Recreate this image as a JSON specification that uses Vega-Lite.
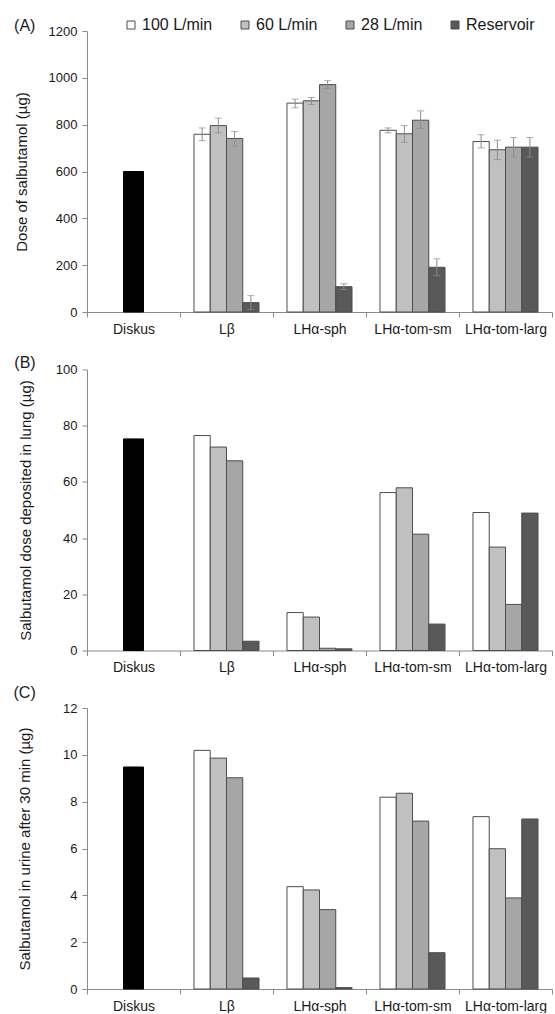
{
  "$schema": "https://vega.github.io/schema/vega-lite/v6.json",
  "background": "white",
  "padding": {"left": 13, "top": 17, "right": 0, "bottom": 0},
  "config": {
    "font": "Liberation Sans",
    "view": {"stroke": null},
    "axis": {"domainColor": "#8a8a8a", "tickColor": "#8a8a8a", "tickSize": 5, "grid": false, "labelColor": "#1a1a1a", "titleColor": "#1a1a1a", "titleFontWeight": "normal", "titleFontSize": 15, "labelFontSize": 13, "labelPadding": 5},
    "axisX": {"tickBand": "extent", "labelFontSize": 14, "labelAngle": 0},
    "title": {"fontSize": 16, "fontWeight": "normal", "color": "#1a1a1a", "anchor": "start", "frame": "bounds"},
    "bar": {"stroke": "#4d4d4d", "strokeWidth": 1}
  },
  "bounds": "flush",
  "spacing": 57.5,
  "resolve": {"scale": {"color": "independent", "y": "independent"}},
  "datasets": {
    "a": [
      {"device": "Diskus", "series": "Diskus", "value": 600},
      {"device": "Lβ", "series": "100 L/min", "value": 759, "lo": 732, "hi": 786},
      {"device": "Lβ", "series": "60 L/min", "value": 796, "lo": 765, "hi": 828},
      {"device": "Lβ", "series": "28 L/min", "value": 741, "lo": 709, "hi": 771},
      {"device": "Lβ", "series": "Reservoir", "value": 40, "lo": 10, "hi": 70},
      {"device": "LHα-sph", "series": "100 L/min", "value": 892, "lo": 872, "hi": 909},
      {"device": "LHα-sph", "series": "60 L/min", "value": 902, "lo": 886, "hi": 916},
      {"device": "LHα-sph", "series": "28 L/min", "value": 971, "lo": 954, "hi": 988},
      {"device": "LHα-sph", "series": "Reservoir", "value": 108, "lo": 96, "hi": 121},
      {"device": "LHα-tom-sm", "series": "100 L/min", "value": 776, "lo": 765, "hi": 786},
      {"device": "LHα-tom-sm", "series": "60 L/min", "value": 761, "lo": 724, "hi": 796},
      {"device": "LHα-tom-sm", "series": "28 L/min", "value": 819, "lo": 784, "hi": 859},
      {"device": "LHα-tom-sm", "series": "Reservoir", "value": 191, "lo": 155, "hi": 227},
      {"device": "LHα-tom-larg", "series": "100 L/min", "value": 728, "lo": 701, "hi": 757},
      {"device": "LHα-tom-larg", "series": "60 L/min", "value": 693, "lo": 651, "hi": 734},
      {"device": "LHα-tom-larg", "series": "28 L/min", "value": 704, "lo": 662, "hi": 745},
      {"device": "LHα-tom-larg", "series": "Reservoir", "value": 704, "lo": 662, "hi": 745}
    ],
    "b": [
      {"device": "Diskus", "series": "Diskus", "value": 75.3},
      {"device": "Lβ", "series": "100 L/min", "value": 76.5},
      {"device": "Lβ", "series": "60 L/min", "value": 72.4},
      {"device": "Lβ", "series": "28 L/min", "value": 67.5},
      {"device": "Lβ", "series": "Reservoir", "value": 3.3},
      {"device": "LHα-sph", "series": "100 L/min", "value": 13.5},
      {"device": "LHα-sph", "series": "60 L/min", "value": 11.9},
      {"device": "LHα-sph", "series": "28 L/min", "value": 0.8},
      {"device": "LHα-sph", "series": "Reservoir", "value": 0.6},
      {"device": "LHα-tom-sm", "series": "100 L/min", "value": 56.2},
      {"device": "LHα-tom-sm", "series": "60 L/min", "value": 57.9},
      {"device": "LHα-tom-sm", "series": "28 L/min", "value": 41.4},
      {"device": "LHα-tom-sm", "series": "Reservoir", "value": 9.4},
      {"device": "LHα-tom-larg", "series": "100 L/min", "value": 49.1},
      {"device": "LHα-tom-larg", "series": "60 L/min", "value": 36.8},
      {"device": "LHα-tom-larg", "series": "28 L/min", "value": 16.4},
      {"device": "LHα-tom-larg", "series": "Reservoir", "value": 48.9}
    ],
    "c": [
      {"device": "Diskus", "series": "Diskus", "value": 9.48},
      {"device": "Lβ", "series": "100 L/min", "value": 10.19},
      {"device": "Lβ", "series": "60 L/min", "value": 9.86},
      {"device": "Lβ", "series": "28 L/min", "value": 9.02},
      {"device": "Lβ", "series": "Reservoir", "value": 0.47},
      {"device": "LHα-sph", "series": "100 L/min", "value": 4.37},
      {"device": "LHα-sph", "series": "60 L/min", "value": 4.23},
      {"device": "LHα-sph", "series": "28 L/min", "value": 3.39},
      {"device": "LHα-sph", "series": "Reservoir", "value": 0.06},
      {"device": "LHα-tom-sm", "series": "100 L/min", "value": 8.19},
      {"device": "LHα-tom-sm", "series": "60 L/min", "value": 8.36},
      {"device": "LHα-tom-sm", "series": "28 L/min", "value": 7.17},
      {"device": "LHα-tom-sm", "series": "Reservoir", "value": 1.55},
      {"device": "LHα-tom-larg", "series": "100 L/min", "value": 7.36},
      {"device": "LHα-tom-larg", "series": "60 L/min", "value": 5.99},
      {"device": "LHα-tom-larg", "series": "28 L/min", "value": 3.89},
      {"device": "LHα-tom-larg", "series": "Reservoir", "value": 7.26}
    ]
  },
  "vconcat": [
    {
      "width": 465, "height": 281,
      "title": {"text": "(A)", "offset": -17, "dx": 0},
      "data": {"name": "a"},
      "encoding": {
        "x": {"field": "device", "type": "nominal", "sort": null, "title": null, "scale": {"domain": ["Diskus", "Lβ", "LHα-sph", "LHα-tom-sm", "LHα-tom-larg"], "paddingInner": 0, "paddingOuter": 0}}
      },
      "layer": [
        {
          "transform": [{"filter": "datum.series === 'Diskus'"}],
          "mark": {"type": "bar", "color": "#000000", "stroke": "#000000", "width": {"band": 0.215}},
          "encoding": {"y": {"field": "value", "type": "quantitative", "title": "Dose of salbutamol  (µg)", "scale": {"domain": [0, 1200], "nice": false}, "axis": {"values": [0, 200, 400, 600, 800, 1000, 1200], "format": "d", "titlePadding": 19}}}
        },
        {
          "transform": [{"filter": "datum.series !== 'Diskus'"}],
          "mark": {"type": "bar"},
          "encoding": {
            "xOffset": {"field": "series", "type": "nominal", "sort": null, "scale": {"domain": ["100 L/min", "60 L/min", "28 L/min", "Reservoir"], "paddingInner": 0, "paddingOuter": 0.86}},
            "y": {"field": "value", "type": "quantitative", "title": "Dose of salbutamol  (µg)"},
            "color": {"field": "series", "type": "nominal", "sort": null, "scale": {"domain": ["100 L/min", "60 L/min", "28 L/min", "Reservoir"], "range": ["#ffffff", "#c0c0c0", "#a6a6a6", "#595959"]},
              "legend": {"orient": "none", "legendX": 36, "legendY": -14, "direction": "horizontal", "title": null, "symbolType": "square", "symbolSize": 64, "symbolStrokeColor": "#4d4d4d", "symbolStrokeWidth": 1, "symbolOpacity": 1, "labelFontSize": 16, "labelColor": "#1a1a1a", "labelOffset": 3, "columnPadding": 24, "labelLimit": 300}}
          }
        },
        {
          "transform": [{"filter": "datum.series !== 'Diskus'"}],
          "mark": {"type": "rule", "color": "#8c8c8c", "strokeWidth": 1},
          "encoding": {
            "xOffset": {"field": "series", "type": "nominal", "sort": null, "scale": {"domain": ["100 L/min", "60 L/min", "28 L/min", "Reservoir"], "paddingInner": 0, "paddingOuter": 0.86}},
            "y": {"field": "lo", "type": "quantitative", "title": "Dose of salbutamol  (µg)"},
            "y2": {"field": "hi"}
          }
        },
        {
          "transform": [{"filter": "datum.series !== 'Diskus'"}],
          "mark": {"type": "tick", "color": "#8c8c8c", "size": 7, "thickness": 1, "orient": "horizontal"},
          "encoding": {
            "xOffset": {"field": "series", "type": "nominal", "sort": null, "scale": {"domain": ["100 L/min", "60 L/min", "28 L/min", "Reservoir"], "paddingInner": 0, "paddingOuter": 0.86}},
            "y": {"field": "lo", "type": "quantitative", "title": "Dose of salbutamol  (µg)"}
          }
        },
        {
          "transform": [{"filter": "datum.series !== 'Diskus'"}],
          "mark": {"type": "tick", "color": "#8c8c8c", "size": 7, "thickness": 1, "orient": "horizontal"},
          "encoding": {
            "xOffset": {"field": "series", "type": "nominal", "sort": null, "scale": {"domain": ["100 L/min", "60 L/min", "28 L/min", "Reservoir"], "paddingInner": 0, "paddingOuter": 0.86}},
            "y": {"field": "hi", "type": "quantitative", "title": "Dose of salbutamol  (µg)"}
          }
        }
      ]
    },
    {
      "width": 465, "height": 281,
      "title": {"text": "(B)", "offset": -7, "dx": -4},
      "data": {"name": "b"},
      "encoding": {
        "x": {"field": "device", "type": "nominal", "sort": null, "title": null, "scale": {"domain": ["Diskus", "Lβ", "LHα-sph", "LHα-tom-sm", "LHα-tom-larg"], "paddingInner": 0, "paddingOuter": 0}},
        "y": {"field": "value", "type": "quantitative", "title": "Salbutamol dose deposited in lung (µg)", "scale": {"domain": [0, 100], "nice": false}, "axis": {"values": [0, 20, 40, 60, 80, 100], "titlePadding": 22}}
      },
      "layer": [
        {
          "transform": [{"filter": "datum.series === 'Diskus'"}],
          "mark": {"type": "bar", "color": "#000000", "stroke": "#000000", "width": {"band": 0.215}}
        },
        {
          "transform": [{"filter": "datum.series !== 'Diskus'"}],
          "mark": {"type": "bar"},
          "encoding": {
            "xOffset": {"field": "series", "type": "nominal", "sort": null, "scale": {"domain": ["100 L/min", "60 L/min", "28 L/min", "Reservoir"], "paddingInner": 0, "paddingOuter": 0.86}},
            "color": {"field": "series", "type": "nominal", "sort": null, "scale": {"domain": ["100 L/min", "60 L/min", "28 L/min", "Reservoir"], "range": ["#ffffff", "#c0c0c0", "#a6a6a6", "#595959"]}, "legend": null}
          }
        }
      ]
    },
    {
      "width": 465, "height": 281,
      "title": {"text": "(C)", "offset": 1, "dx": -4},
      "data": {"name": "c"},
      "encoding": {
        "x": {"field": "device", "type": "nominal", "sort": null, "title": null, "scale": {"domain": ["Diskus", "Lβ", "LHα-sph", "LHα-tom-sm", "LHα-tom-larg"], "paddingInner": 0, "paddingOuter": 0}},
        "y": {"field": "value", "type": "quantitative", "title": "Salbutamol in urine after 30 min (µg)", "scale": {"domain": [0, 12], "nice": false}, "axis": {"values": [0, 2, 4, 6, 8, 10, 12], "titlePadding": 30}}
      },
      "layer": [
        {
          "transform": [{"filter": "datum.series === 'Diskus'"}],
          "mark": {"type": "bar", "color": "#000000", "stroke": "#000000", "width": {"band": 0.215}}
        },
        {
          "transform": [{"filter": "datum.series !== 'Diskus'"}],
          "mark": {"type": "bar"},
          "encoding": {
            "xOffset": {"field": "series", "type": "nominal", "sort": null, "scale": {"domain": ["100 L/min", "60 L/min", "28 L/min", "Reservoir"], "paddingInner": 0, "paddingOuter": 0.86}},
            "color": {"field": "series", "type": "nominal", "sort": null, "scale": {"domain": ["100 L/min", "60 L/min", "28 L/min", "Reservoir"], "range": ["#ffffff", "#c0c0c0", "#a6a6a6", "#595959"]}, "legend": null}
          }
        }
      ]
    }
  ]
}
